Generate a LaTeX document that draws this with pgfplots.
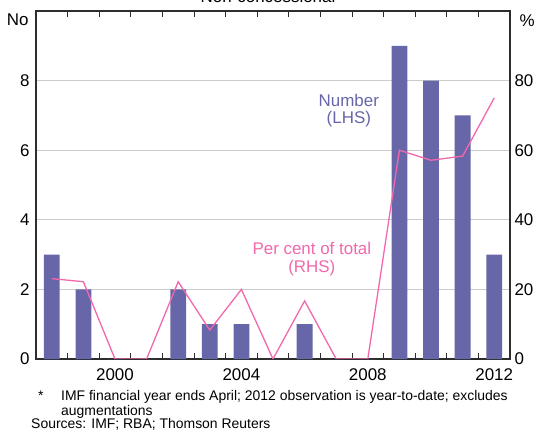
\documentclass[border=0pt]{standalone}
\usepackage{fontspec}
\setmainfont{Liberation Sans}
\usepackage{pgfplots}
\pgfplotsset{compat=1.18}
\definecolor{barpurple}{RGB}{102,102,168}
\definecolor{linepink}{RGB}{242,104,172}
\definecolor{axisgray}{RGB}{45,45,45}
\begin{document}
\begin{tikzpicture}
\pgfplotsset{
  every axis/.append style={
    scale only axis, width=474bp, height=348bp,
    xmin=1997.5, xmax=2012.5,
    font=\fontsize{17}{20}\selectfont,
    /pgf/number format/assume math mode=true,
    /pgf/number format/1000 sep={},
    major tick length=0pt,
  },
}
% Number of loans (LHS)
\begin{axis}[
  ymin=0, ymax=10,
  ytick={0,2,4,6,8},
  ymajorgrids,
  grid style={draw=black!20, line width=0.9bp},
  xtick={2000,2004,2008,2012},
  extra x ticks={1998.5,1999.5,2000.5,2001.5,2002.5,2003.5,2004.5,2005.5,2006.5,2007.5,2008.5,2009.5,2010.5,2011.5},
  extra x tick labels={},
  extra x tick style={major tick length=6bp, tick align=inside, grid=none,
    tick style={draw=axisgray, line width=0.9bp}},
  axis line style={draw=axisgray, line width=1.1bp},
  yticklabel style={xshift=-3bp},
  xticklabel style={yshift=-6bp},
]
\addplot[ybar, bar width=0.5, fill=barpurple, draw=none] coordinates {
  (1998,3) (1999,2) (2000,0) (2001,0) (2002,2) (2003,1) (2004,1)
  (2005,0) (2006,1) (2007,0) (2008,0) (2009,9) (2010,8) (2011,7) (2012,3)
};
\node[barpurple, anchor=base] at (axis cs:2007.4,7.27) {Number};
\node[barpurple, anchor=base] at (axis cs:2007.4,6.78) {(LHS)};
\node[linepink, anchor=base] at (axis cs:2006.23,2.99) {Per cent of total};
\node[linepink, anchor=base] at (axis cs:2006.23,2.50) {(RHS)};
\end{axis}
% Per cent of total (RHS)
\begin{axis}[
  ymin=0, ymax=100,
  ytick={0,20,40,60,80},
  axis y line*=right,
  axis x line=none,
  y axis line style={draw=none},
  yticklabel style={xshift=1bp},
]
\addplot[linepink, line width=1.3bp, mark=none] coordinates {
  (1998,23.1) (1999,22.2) (2000,0) (2001,0) (2002,22.2) (2003,8.3) (2004,20)
  (2005,0) (2006,16.7) (2007,0) (2008,0) (2009,60) (2010,57.1) (2011,58.3) (2012,75)
};
\end{axis}
\node[anchor=base east, font=\fontsize{17}{20}\selectfont] at (-4bp,333bp) {No};
\node[anchor=base west, font=\fontsize{17}{20}\selectfont] at (480bp,332bp) {\%};
\node[anchor=base, font=\fontsize{17}{20}\selectfont] at (232bp,356bp) {Non-concessional};
\begin{scope}[every node/.style={font=\fontsize{14}{16}\selectfont, inner sep=0pt}]
\node[anchor=base west] at (2bp,-41bp) {*};
\node[anchor=base west] at (25bp,-41bp) {IMF financial year ends April; 2012 observation is year-to-date; excludes};
\node[anchor=base west] at (25bp,-56bp) {augmentations};
\node[anchor=base west] at (-5bp,-69.5bp) {Sources: IMF; RBA; Thomson Reuters};
\end{scope}
\pgfresetboundingbox
\useasboundingbox (-36bp,-75bp) rectangle (501bp,359bp);
\end{tikzpicture}
\end{document}
